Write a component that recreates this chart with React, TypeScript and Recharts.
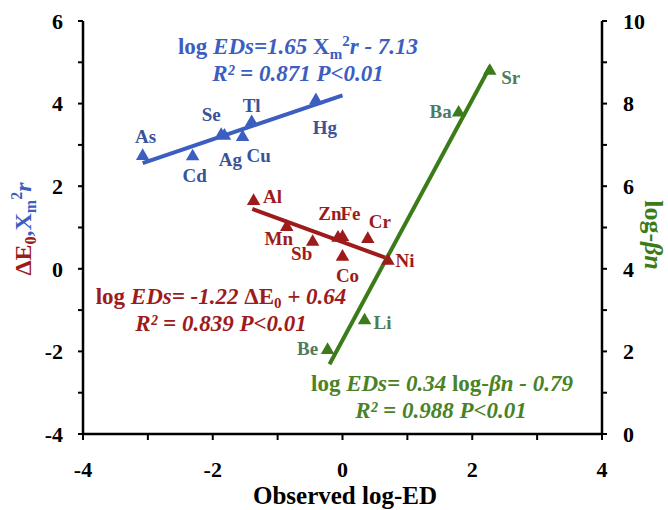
import React from "react";
import { ScatterChart, Scatter, XAxis, YAxis } from "recharts";

// element labels and measured coordinates (x = observed log-ED)
const blueNames = ["As", "Cd", "Se", "Ag", "Cu", "Tl", "Hg"];
const blueX = [-3.08, -2.31, -1.87, -1.82, -1.54, -1.4, -0.41];
const blueY = [2.73, 2.72, 3.24, 3.22, 3.19, 3.55, 4.08];

const redNames = ["Al", "Mn", "Sb", "Zn", "Fe", "Cr", "Co", "Ni"];
const redX = [-1.37, -0.86, -0.46, -0.07, 0.0, 0.39, 0.0, 0.7];
const redY = [1.64, 1.01, 0.65, 0.75, 0.77, 0.72, 0.29, 0.19];

const greenNames = ["Be", "Li", "Ba", "Sr"];
const greenX = [-0.23, 0.34, 1.79, 2.27];
const greenY = [2.03, 2.75, 7.78, 8.79];

// fitted regression lines (end points)
const blueFitX = [-3.08, 0.0];
const blueFitY = [2.56, 4.2];
const redFitX = [-1.39, 0.66];
const redFitY = [1.45, 0.27];
const greenFitX = [-0.2, 2.28];
const greenFitY = [1.69, 8.91];

const xTicks = [-4, -3, -2, -1, 0, 1, 2, 3, 4];
const leftTicks = [-4, -3, -2, -1, 0, 1, 2, 3, 4, 5, 6];
const rightTicks = [0, 1, 2, 3, 4, 5, 6, 7, 8, 9, 10];

// label offsets from marker centre, in px
const labelOffset: Record<string, [number, number]> = {
  As: [3, -20], Cd: [2, 19], Se: [-10, -20], Ag: [6, 24], Cu: [16, 18],
  Tl: [0, -17], Hg: [9, 27],
  Al: [19, -5], Mn: [-8, 11], Sb: [-11, 12], Zn: [-8, -24], Fe: [8, -23],
  Cr: [12, -18], Co: [5, 19], Ni: [17, 0],
  Sr: [21, 7], Ba: [-18, -1], Li: [18, 2], Be: [-20, -2],
};

const FONT = '"Liberation Serif", "Times New Roman", serif';
const BLUE = "#3b5ec0";
const BLUE_LABEL = "#3a529a";
const RED = "#9e1b1b";
const GREEN = "#3b7b1a";
const GREEN_TEXT = "#4a8226";
const GREEN_LABEL = "#4e7b5a";

const zip = (names: string[], xs: number[], ys: number[]) =>
  xs.map((x, i) => ({ name: names[i], x, y: ys[i] }));
const fit = (xs: number[], ys: number[]) => xs.map((x, i) => ({ x, y: ys[i] }));

const blueData = zip(blueNames, blueX, blueY);
const redData = zip(redNames, redX, redY);
const greenData = zip(greenNames, greenX, greenY);

const makeShape = (fill: string, labelFill: string) => (props: any) => {
  const { cx, cy, payload } = props;
  const s = 13.5;
  const h = s * 0.866;
  const pts = `${cx},${cy - (2 * h) / 3} ${cx - s / 2},${cy + h / 3} ${cx + s / 2},${cy + h / 3}`;
  const [dx, dy] = labelOffset[payload.name] || [0, -16];
  return (
    <g>
      <polygon points={pts} fill={fill} />
      <text
        x={cx + dx}
        y={cy + dy}
        textAnchor="middle"
        dominantBaseline="central"
        fill={labelFill}
        fontFamily={FONT}
        fontWeight={700}
        fontSize={19}
      >
        {payload.name}
      </text>
    </g>
  );
};

const noShape = () => <g />;
const evenOnly = (v: number) => (v % 2 === 0 ? String(v) : "");

const tickStyle = { fill: "#000", fontSize: 22, fontWeight: 700, fontFamily: FONT };
const axisLine = { stroke: "#000", strokeWidth: 2.5 };
const tickLine = { stroke: "#000", strokeWidth: 2 };

export default function App() {
  return (
    <div style={{ position: "absolute", left: 0, top: 0, width: 668, height: 510, background: "#fff" }}>
      <ScatterChart width={668} height={510} margin={{ top: 21, right: 0, bottom: 0, left: 0 }}>
        <XAxis
          xAxisId="bottom"
          dataKey="x"
          type="number"
          domain={[-4, 4]}
          ticks={xTicks}
          tickFormatter={evenOnly}
          tick={tickStyle}
          tickSize={6}
          tickMargin={21}
          axisLine={axisLine}
          tickLine={tickLine}
          height={76}
          interval={0}
        />
        <XAxis
          xAxisId="top"
          orientation="top"
          dataKey="x"
          type="number"
          domain={[-4, 4]}
          tick={false}
          tickLine={false}
          axisLine={axisLine}
          height={0}
        />
        <YAxis
          yAxisId="left"
          dataKey="y"
          type="number"
          domain={[-4, 6]}
          ticks={leftTicks}
          tickFormatter={evenOnly}
          tick={tickStyle}
          tickSize={5}
          tickMargin={15}
          axisLine={axisLine}
          tickLine={tickLine}
          width={83}
          interval={0}
        />
        <YAxis
          yAxisId="right"
          orientation="right"
          dataKey="y"
          type="number"
          domain={[0, 10]}
          ticks={rightTicks}
          tickFormatter={evenOnly}
          tick={tickStyle}
          tickSize={5}
          tickMargin={16}
          axisLine={axisLine}
          tickLine={tickLine}
          width={66}
          interval={0}
        />
        <Scatter
          xAxisId="bottom"
          yAxisId="left"
          data={fit(blueFitX, blueFitY)}
          line={{ stroke: BLUE, strokeWidth: 4 }}
          shape={noShape}
          isAnimationActive={false}
        />
        <Scatter
          xAxisId="bottom"
          yAxisId="left"
          data={fit(redFitX, redFitY)}
          line={{ stroke: RED, strokeWidth: 4 }}
          shape={noShape}
          isAnimationActive={false}
        />
        <Scatter
          xAxisId="bottom"
          yAxisId="right"
          data={fit(greenFitX, greenFitY)}
          line={{ stroke: GREEN, strokeWidth: 4 }}
          shape={noShape}
          isAnimationActive={false}
        />
        <Scatter
          xAxisId="bottom"
          yAxisId="left"
          data={blueData}
          shape={makeShape(BLUE, BLUE_LABEL)}
          isAnimationActive={false}
        />
        <Scatter
          xAxisId="bottom"
          yAxisId="left"
          data={redData}
          shape={makeShape(RED, RED)}
          isAnimationActive={false}
        />
        <Scatter
          xAxisId="bottom"
          yAxisId="right"
          data={greenData}
          shape={makeShape(GREEN, GREEN_LABEL)}
          isAnimationActive={false}
        />
      </ScatterChart>

      <svg
        width={668}
        height={510}
        style={{ position: "absolute", left: 0, top: 0, pointerEvents: "none" }}
        fontFamily={FONT}
        fontWeight={700}
      >
        {/* blue equation */}
        <text x={298} y={54} textAnchor="middle" fill={BLUE} fontSize={23}>
          <tspan>log </tspan>
          <tspan fontStyle="italic">EDs=1.65 </tspan>
          <tspan>X</tspan>
          <tspan fontSize={15} dy={5}>m</tspan>
          <tspan fontSize={15} dy={-13}>2</tspan>
          <tspan fontStyle="italic" dy={8}>r - 7.13</tspan>
        </text>
        <text x={298} y={81} textAnchor="middle" fill={BLUE} fontSize={23} fontStyle="italic">
          R² = 0.871 P&lt;0.01
        </text>

        {/* red equation */}
        <text x={221} y={304} textAnchor="middle" fill={RED} fontSize={23}>
          <tspan>log </tspan>
          <tspan fontStyle="italic">EDs= -1.22 </tspan>
          <tspan>ΔE</tspan>
          <tspan fontSize={15} dy={4}>0</tspan>
          <tspan fontStyle="italic" dy={-4}> + 0.64</tspan>
        </text>
        <text x={221} y={331} textAnchor="middle" fill={RED} fontSize={23} fontStyle="italic">
          R² = 0.839 P&lt;0.01
        </text>

        {/* green equation */}
        <text x={442} y={391} textAnchor="middle" fill={GREEN_TEXT} fontSize={23}>
          <tspan>log </tspan>
          <tspan fontStyle="italic">EDs= 0.34 </tspan>
          <tspan>log-</tspan>
          <tspan fontStyle="italic">βn - 0.79</tspan>
        </text>
        <text x={441} y={418} textAnchor="middle" fill={GREEN_TEXT} fontSize={23} fontStyle="italic">
          R² = 0.988 P&lt;0.01
        </text>

        {/* axis titles */}
        <text x={345} y={504} textAnchor="middle" fill="#000" fontSize={25}>
          Observed log-ED
        </text>
        <text x={31} y={229} textAnchor="middle" fontSize={24} transform="rotate(-90 31 229)">
          <tspan fill={RED}>ΔE</tspan>
          <tspan fill={RED} fontSize={16} dy={5}>0</tspan>
          <tspan fill={BLUE} dy={-5}>,X</tspan>
          <tspan fill={BLUE} fontSize={16} dy={5}>m</tspan>
          <tspan fill={BLUE} fontSize={16} dy={-14}>2</tspan>
          <tspan fill={BLUE} fontStyle="italic" dy={9}>r</tspan>
        </text>
        <text x={645} y={235} textAnchor="middle" fill={GREEN} fontSize={26} transform="rotate(90 645 235)">
          <tspan>log-</tspan>
          <tspan fontStyle="italic">βn</tspan>
        </text>
      </svg>
    </div>
  );
}
